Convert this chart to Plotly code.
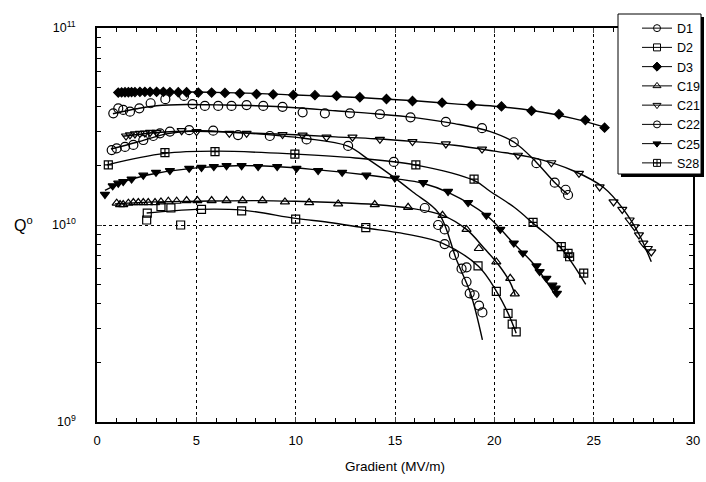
import plotly.graph_objects as go

# ---------------- data ----------------
names = ["D1", "D2", "D3", "C19", "C21", "C22", "C25", "S28"]

d1_x = [0.82, 1.07, 1.32, 1.66, 2.13, 2.7, 3.44, 4.38, 4.81, 5.43, 6.1, 6.77, 7.53, 8.37, 9.34,
        10.35, 11.47, 12.73, 14.24, 15.78, 17.56, 19.38, 20.98, 22.12, 23.04, 23.59, 23.71]
d1_q = [3.69e10, 3.91e10, 3.84e10, 3.76e10, 3.91e10, 4.15e10, 4.35e10, 4.52e10, 4.11e10, 4.02e10,
        4.02e10, 4.02e10, 4.06e10, 4.02e10, 3.98e10, 3.73e10, 3.69e10, 3.69e10, 3.65e10, 3.52e10,
        3.34e10, 3.10e10, 2.63e10, 2.06e10, 1.64e10, 1.51e10, 1.42e10]

d2_x = [2.53, 2.5, 3.22, 3.72, 4.21, 5.26, 7.28, 10.0, 13.53, 19.18, 20.1, 20.69, 20.9, 21.1]
d2_q = [1.15e10, 1.06e10, 1.24e10, 1.22e10, 1.00e10, 1.20e10, 1.18e10, 1.07e10, 0.97e10,
        0.62e10, 0.46e10, 0.356e10, 0.314e10, 0.287e10]

d3_x = [1.07, 1.24, 1.41, 1.58, 1.74, 1.91, 2.16, 2.41, 2.67, 3.0, 3.34, 3.67, 4.09, 4.51, 5.1,
        5.77, 6.44, 7.19, 8.03, 8.87, 9.88, 10.97, 12.06, 13.23, 14.57, 15.88, 17.37, 18.85,
        20.36, 21.87, 23.25, 24.58, 25.55]
d3_q = [4.70e10, 4.71e10, 4.72e10, 4.72e10, 4.73e10, 4.73e10, 4.74e10, 4.74e10, 4.74e10, 4.74e10,
        4.74e10, 4.73e10, 4.72e10, 4.72e10, 4.70e10, 4.70e10, 4.68e10, 4.66e10, 4.62e10, 4.60e10,
        4.57e10, 4.56e10, 4.52e10, 4.45e10, 4.36e10, 4.26e10, 4.18e10, 4.06e10, 4.00e10, 3.80e10,
        3.65e10, 3.41e10, 3.12e10]

c19_x = [0.99, 1.16, 1.32, 1.58, 1.83, 2.08, 2.33, 2.58, 2.92, 3.22, 3.59, 4.01, 4.51, 5.05, 5.77,
         6.52, 7.33, 8.33, 9.46, 10.68, 12.14, 13.98, 15.66, 17.39, 18.6, 19.22, 20.1, 20.8, 21.03]
c19_q = [1.29e10, 1.27e10, 1.27e10, 1.29e10, 1.30e10, 1.30e10, 1.30e10, 1.30e10, 1.30e10, 1.31e10,
         1.32e10, 1.32e10, 1.33e10, 1.33e10, 1.33e10, 1.33e10, 1.33e10, 1.33e10, 1.31e10, 1.30e10,
         1.28e10, 1.27e10, 1.23e10, 1.12e10, 0.95e10, 0.76e10, 0.65e10, 0.536e10, 0.447e10]

c21_x = [1.46, 1.66, 1.91, 2.16, 2.41, 2.67, 3.0, 4.26, 5.01, 6.66, 7.53, 9.34, 10.35, 11.55, 12.86,
         14.24, 15.88, 17.56, 19.38, 21.19, 22.87, 24.26, 25.3, 26.0, 26.44, 26.81, 27.06, 27.28,
         27.5, 27.73, 27.9]
c21_q = [2.83e10, 2.87e10, 2.90e10, 2.92e10, 2.93e10, 2.95e10, 2.95e10, 3.01e10, 2.98e10, 2.92e10,
         2.92e10, 2.88e10, 2.86e10, 2.79e10, 2.79e10, 2.72e10, 2.65e10, 2.58e10, 2.43e10, 2.26e10,
         2.07e10, 1.83e10, 1.56e10, 1.31e10, 1.20e10, 1.06e10, 0.98e10, 0.89e10, 0.81e10, 0.76e10,
         0.73e10]

c22_x = [0.74, 0.99, 1.41, 1.83, 2.33, 2.83, 3.17, 3.67, 4.64, 5.85, 7.1, 8.7, 10.55, 12.64, 14.94,
         16.5, 17.17, 17.5, 17.5, 17.97, 18.35, 18.6, 18.6, 18.76, 19.0, 19.23, 19.4]
c22_q = [2.40e10, 2.45e10, 2.49e10, 2.55e10, 2.70e10, 2.83e10, 2.92e10, 2.98e10, 3.03e10, 3.01e10,
         2.86e10, 2.83e10, 2.72e10, 2.52e10, 2.09e10, 1.22e10, 1.00e10, 0.95e10, 0.80e10, 0.705e10,
         0.60e10, 0.61e10, 0.515e10, 0.45e10, 0.44e10, 0.39e10, 0.36e10]

c25_x = [0.4, 0.79, 1.07, 1.32, 1.74, 2.33, 2.97, 3.67, 4.64, 5.26, 5.88, 6.52, 7.28, 8.11, 9.07,
         10.04, 11.13, 12.34, 13.56, 14.99, 16.42, 17.67, 18.68, 19.6, 20.3, 20.98, 21.44, 22.12,
         22.28, 22.62, 22.92, 23.09, 23.15]
c25_q = [1.43e10, 1.58e10, 1.63e10, 1.66e10, 1.71e10, 1.79e10, 1.85e10, 1.89e10, 1.94e10, 1.96e10,
         1.98e10, 2.00e10, 2.00e10, 1.98e10, 1.98e10, 1.94e10, 1.89e10, 1.85e10, 1.79e10, 1.73e10,
         1.64e10, 1.48e10, 1.30e10, 1.12e10, 0.95e10, 0.81e10, 0.72e10, 0.62e10, 0.58e10, 0.536e10,
         0.495e10, 0.478e10, 0.45e10]

s28_x = [0.57, 3.42, 5.94, 9.96, 16.05, 18.98, 21.95, 23.37, 23.71, 23.79, 24.5]
s28_q = [2.02e10, 2.33e10, 2.36e10, 2.29e10, 2.02e10, 1.71e10, 1.03e10, 0.776e10, 0.718e10,
         0.69e10, 0.57e10]

# fitted curves
d1_fx = [0.8, 2, 3, 4.5, 6, 8, 10, 12, 14, 16, 18, 19.8, 21, 22.1, 23, 23.7]
d1_fq = [3.67e10, 3.89e10, 4.03e10, 4.09e10, 4.07e10, 4.03e10, 3.94e10, 3.80e10, 3.67e10, 3.51e10,
         3.27e10, 2.98e10, 2.63e10, 2.09e10, 1.66e10, 1.43e10]
d2_fx = [2.5, 5, 7.3, 10, 11.7, 13.5, 15.5, 17.4, 19.2, 20.1, 20.7, 21.1]
d2_fq = [1.15e10, 1.20e10, 1.19e10, 1.08e10, 1.03e10, 0.966e10, 0.902e10, 0.807e10, 0.617e10,
         0.462e10, 0.355e10, 0.282e10]
d3_fx = [1.0, 3, 5, 8, 10, 12, 14, 16, 18, 20, 22, 24, 25.6]
d3_fq = [4.72e10, 4.75e10, 4.73e10, 4.66e10, 4.57e10, 4.49e10, 4.39e10, 4.27e10, 4.12e10, 4.01e10,
         3.80e10, 3.47e10, 3.13e10]
c19_fx = [0.9, 3, 5, 8, 10, 12, 14, 15.7, 17.4, 18.6, 19.5, 20.2, 20.8, 21.05]
c19_fq = [1.28e10, 1.31e10, 1.32e10, 1.33e10, 1.32e10, 1.30e10, 1.27e10, 1.22e10, 1.12e10, 0.95e10,
          0.76e10, 0.63e10, 0.51e10, 0.44e10]
c21_fx = [1.3, 3, 5, 8, 10, 12, 14, 16, 18, 20, 22, 24, 25.5, 26.5, 27.3, 27.9]
c21_fq = [2.82e10, 2.95e10, 2.99e10, 2.92e10, 2.87e10, 2.80e10, 2.74e10, 2.65e10, 2.54e10, 2.37e10,
          2.19e10, 1.88e10, 1.55e10, 1.20e10, 0.89e10, 0.65e10]
c22_fx = [0.7, 2, 3.5, 5, 7, 9, 10.5, 12.6, 13.7, 14.9, 15.9, 17.2, 18.1, 18.8, 19.4]
c22_fq = [2.43e10, 2.63e10, 2.90e10, 3.01e10, 2.95e10, 2.85e10, 2.75e10, 2.52e10, 2.14e10, 1.76e10,
          1.47e10, 1.15e10, 0.664e10, 0.45e10, 0.261e10]
c25_fx = [0.4, 1.5, 3, 5, 7, 9, 11, 13.5, 15, 16.4, 17.7, 19.6, 21, 22, 23.1]
c25_fq = [1.50e10, 1.68e10, 1.83e10, 1.95e10, 2.00e10, 1.98e10, 1.91e10, 1.80e10, 1.72e10, 1.63e10,
          1.46e10, 1.12e10, 0.80e10, 0.63e10, 0.436e10]
s28_fx = [0.5, 3.4, 6, 10, 13, 16, 19, 19.8, 21, 22, 23.3, 24.6]
s28_fq = [2.02e10, 2.31e10, 2.37e10, 2.29e10, 2.19e10, 2.02e10, 1.68e10, 1.48e10, 1.23e10, 1.01e10,
          0.776e10, 0.50e10]

x_ticks = [0, 5, 10, 15, 20, 25, 30]
y_ticks = [1e9, 1e10, 1e11]
y_ticktext = ["10<sup>9</sup>", "10<sup>10</sup>", "10<sup>11</sup>"]

# ---------------- styling ----------------
symbols = {"D1": "circle-open", "D2": "square-open", "D3": "diamond", "C19": "triangle-up-open",
           "C21": "triangle-down-open", "C22": "circle-open", "C25": "triangle-down",
           "S28": "square-cross-open"}
sizes = {"D1": 9, "D2": 8, "D3": 7, "C19": 8, "C21": 8, "C22": 9, "C25": 8, "S28": 8}
series = {
    "D1": (d1_x, d1_q, d1_fx, d1_fq), "D2": (d2_x, d2_q, d2_fx, d2_fq),
    "D3": (d3_x, d3_q, d3_fx, d3_fq), "C19": (c19_x, c19_q, c19_fx, c19_fq),
    "C21": (c21_x, c21_q, c21_fx, c21_fq), "C22": (c22_x, c22_q, c22_fx, c22_fq),
    "C25": (c25_x, c25_q, c25_fx, c25_fq), "S28": (s28_x, s28_q, s28_fx, s28_fq),
}

FONT = "Liberation Sans, Arial, sans-serif"
W, H = 706, 482
L, R, T, B = 97, 0, 28, 60          # right margin 0; the plot's right edge is set by the domain
PLOT_RIGHT = 693
PW, PH = W - L - R, H - T - B
XDOM = (PLOT_RIGHT - L) / PW


def px_x(p):
    return (p - L) / PW


def px_y(p):
    return (H - B - p) / PH


fig = go.Figure()
for n in names:
    x, q, fx, fq = series[n]
    fig.add_trace(go.Scatter(x=fx, y=fq, mode="lines",
                             line=dict(color="black", width=1.4, shape="spline", smoothing=1.0),
                             showlegend=False, hoverinfo="skip"))
    fig.add_trace(go.Scatter(x=x, y=q, mode="markers", showlegend=False,
                             marker=dict(symbol=symbols[n], size=sizes[n], color="black",
                                         line=dict(color="black", width=1.2))))
for n in names:
    fig.add_trace(go.Scatter(x=[None], y=[None], mode="lines+markers", name=n,
                             line=dict(color="black", width=1),
                             marker=dict(symbol=symbols[n], size=7, color="black",
                                         line=dict(color="black", width=1))))

# legend frame with drop shadow
fig.add_shape(type="rect", xref="paper", yref="paper", layer="above",
              x0=px_x(621), x1=px_x(704), y0=px_y(177), y1=px_y(17),
              fillcolor="black", line=dict(width=0))
fig.add_shape(type="rect", xref="paper", yref="paper", layer="above",
              x0=px_x(618), x1=px_x(701), y0=px_y(174), y1=px_y(14),
              fillcolor="white", line=dict(color="black", width=1))

fig.update_layout(
    width=W, height=H,
    margin=dict(l=L, r=R, t=T, b=B),
    paper_bgcolor="white", plot_bgcolor="white",
    font=dict(family=FONT, size=12, color="black"),
    showlegend=True,
    legend=dict(x=px_x(637), y=px_y(13.5), xanchor="left", yanchor="top",
                bgcolor="rgba(0,0,0,0)", borderwidth=0,
                font=dict(size=12.5, family=FONT), tracegroupgap=0),
    xaxis=dict(domain=[0, XDOM], range=[0, 30], tickvals=x_ticks, ticks="inside", ticklen=5,
               mirror="ticks", showline=True, linecolor="black", linewidth=1.5,
               showgrid=True, gridcolor="black", griddash="dot", gridwidth=1,
               minor=dict(dtick=1, ticks="inside", ticklen=4, tickcolor="black", showgrid=False),
               zeroline=False, tickfont=dict(size=13), ticklabelstandoff=6, automargin=False,
               title=dict(text="Gradient (MV/m)", font=dict(size=13.5), standoff=14)),
    yaxis=dict(type="log", range=[9, 11], tickvals=y_ticks, ticktext=y_ticktext,
               ticks="inside", ticklen=5, mirror="ticks",
               showline=True, linecolor="black", linewidth=1.5,
               showgrid=True, gridcolor="black", griddash="dot", gridwidth=1,
               minor=dict(dtick="D1", ticks="inside", ticklen=4, tickcolor="black", showgrid=False),
               zeroline=False, tickfont=dict(size=12.5), ticklabelstandoff=17, automargin=False),
)
fig.add_annotation(text="Q<sup>o</sup>", xref="paper", yref="paper", x=px_x(23), y=px_y(224),
                   showarrow=False, font=dict(size=16, family=FONT), xanchor="center", yanchor="middle")

fig.write_html("out.html", config={"displayModeBar": False},
               post_script="document.body.style.margin='0';")
